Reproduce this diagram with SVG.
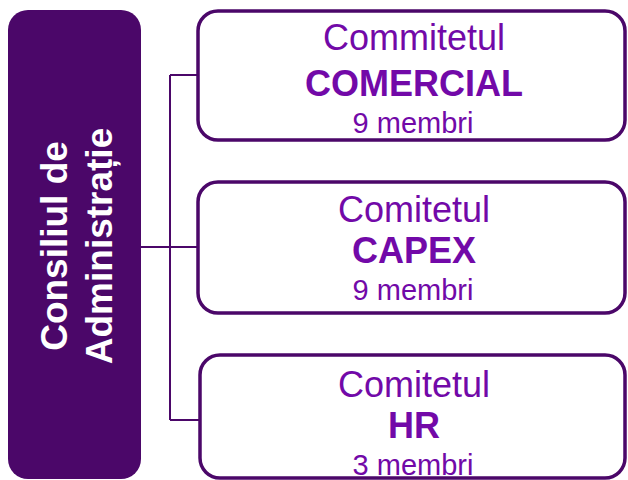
<svg xmlns="http://www.w3.org/2000/svg" width="628" height="480" viewBox="0 0 628 480">
<style>
.box{fill:#ffffff;stroke:#4B0769;stroke-width:3.5}
.conn{stroke:#4B0769;stroke-width:2;fill:none}
.t{font-family:"Liberation Sans",Arial,sans-serif;fill:#7209A8;text-anchor:middle}
.big{font-size:36px}
.bold{font-size:36px;font-weight:bold}
.small{font-size:29px}
.side{font-family:"Liberation Sans",Arial,sans-serif;fill:#ffffff;font-weight:bold;font-size:37px;text-anchor:middle}
</style>
<rect width="628" height="480" fill="#ffffff"/>
<g id="connectors">
<path class="conn" d="M141 247 H170 M170 75 V420 M170 75 H198 M170 247 H198 M170 420 H200"/>
</g>
<g id="consiliu">
<rect x="8" y="10" width="133" height="469" rx="20" ry="20" fill="#4B0769"/>
<text class="side" transform="translate(67 246) rotate(-90)">Consiliul de</text>
<text class="side" transform="translate(112 246) rotate(-90)">Administrație</text>
</g>
<g id="comercial">
<rect class="box" x="198" y="11" width="427" height="129" rx="20" ry="20"/>
<text class="t big" x="414" y="50">Commitetul</text>
<text class="t bold" x="414" y="96">COMERCIAL</text>
<text class="t small" x="413" y="133">9 membri</text>
</g>
<g id="capex">
<rect class="box" x="198" y="182" width="427" height="131" rx="20" ry="20"/>
<text class="t big" x="414" y="222">Comitetul</text>
<text class="t bold" x="414" y="263">CAPEX</text>
<text class="t small" x="413" y="300">9 membri</text>
</g>
<g id="hr">
<rect class="box" x="200" y="355" width="425" height="123" rx="20" ry="20"/>
<text class="t big" x="414" y="397">Comitetul</text>
<text class="t bold" x="414" y="438">HR</text>
<text class="t small" x="413" y="475">3 membri</text>
</g>
</svg>
